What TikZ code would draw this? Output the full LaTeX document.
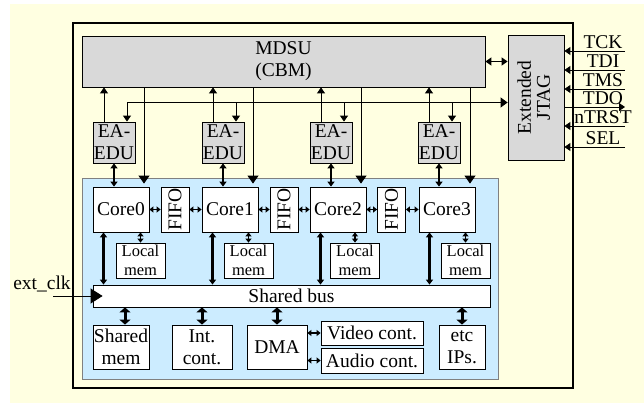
\documentclass[tikz,border=0pt]{standalone}
\usepackage{fontspec}
\setmainfont{Liberation Serif}
\usepackage{graphicx}
\usetikzlibrary{arrows.meta}
\definecolor{bgyellow}{RGB}{255,255,225}
\definecolor{chipblue}{RGB}{204,236,255}
\definecolor{boxgray}{RGB}{217,217,217}
\begin{document}
\begin{tikzpicture}[x=1pt,y=-1pt,
  box/.style={draw=black, line width=0.8pt, fill=white, inner sep=0pt, align=center, font=\fontsize{19.5}{22}\selectfont},
  graybox/.style={box, fill=boxgray},
  smallbox/.style={box, font=\fontsize{16.5}{18.5}\selectfont},
  thinarrow/.style={line width=0.9pt, -{Triangle[length=6pt,width=8pt]}},
  bigdown/.style={line width=0.9pt, -{Triangle[length=8pt,width=11pt]}},
  thickdbl/.style={line width=2.4pt, {Triangle[length=5pt,width=7pt]}-{Triangle[length=5pt,width=7pt]}},
  bigdbl/.style={line width=3pt, {Triangle[length=5pt,width=11pt]}-{Triangle[length=5pt,width=11pt]}},
  smalldbl/.style={line width=1.8pt, {Triangle[length=4pt,width=6pt]}-{Triangle[length=4pt,width=6pt]}},
  sig/.style={font=\fontsize{19.5}{22}\selectfont, inner sep=0pt, anchor=base}
]
\useasboundingbox (0,0) rectangle (644,403);
\fill[bgyellow] (10,4) rectangle (644,403);
\draw[line width=1.8pt] (73,23) rectangle (573,388);

% blue chip area
\node[draw=gray, fill=chipblue, line width=0.8pt, minimum width=416pt, minimum height=201pt, inner sep=0pt] (chip) at (290,278.5) {};

% MDSU and JTAG
\node[graybox, minimum width=403pt, minimum height=51pt] (mdsu) at (283.5,61.5) {MDSU\\(CBM)};
\node[graybox, minimum width=56pt, minimum height=125pt] (jtag) at (536,97.5) {\rotatebox{90}{\begin{tabular}{@{}c@{}}Extended\\[-3pt]JTAG\end{tabular}}};

% EA-EDU
\foreach \i/\c in {0/114,1/223,2/331,3/439}{
  \node[graybox, minimum width=42pt, minimum height=41pt] (edu\i) at (\c,142.5) {EA-\\EDU};
}

% cores
\foreach \i/\c in {0/121,1/230,2/338,3/447}{
  \node[box, minimum width=56pt, minimum height=45pt] (core\i) at (\c,209.5) {Core\i};
}
% FIFOs
\foreach \i/\c in {0/175,1/284,2/391.5}{
  \node[box, minimum width=28pt, minimum height=45pt] (fifo\i) at (\c,209.5) {\rotatebox{90}{FIFO}};
}
% local mems
\foreach \i/\c in {0/140.5,1/248.5,2/355,3/465.5}{
  \node[smallbox, minimum width=49pt, minimum height=35pt] (lm\i) at (\c,260.5) {Local\\mem};
}
% shared bus
\node[box, minimum width=397pt, minimum height=22pt] (bus) at (291.5,296) {Shared bus};

% bottom boxes
\node[box, minimum width=56pt, minimum height=44pt] (smem) at (121,347) {Shared\\mem};
\node[box, minimum width=60pt, minimum height=44pt] (intc) at (202,347) {Int.\\cont.};
\node[box, minimum width=60pt, minimum height=44pt] (dma) at (277,347) {DMA};
\node[box, minimum width=102pt, minimum height=24pt] (video) at (372,333) {Video cont.};
\node[box, minimum width=102pt, minimum height=25pt] (audio) at (372,360.5) {Audio cont.};
\node[box, minimum width=46pt, minimum height=44pt] (etc) at (462,347) {etc\\IPs.};

% MDSU <-> JTAG
\draw[line width=1.3pt, {Triangle[length=6pt,width=8pt]}-{Triangle[length=6pt,width=8pt]}] (mdsu.east) -- (jtag.west |- mdsu.east);

% JTAG signals
\foreach \n/\y/\t in {tck/51/TCK, tdi/70/TDI, tms/89/TMS, ntrst/126/nTRST, sel/147/SEL}{
  \coordinate (\n) at (625,\y);
  \draw[thinarrow] (\n) -- (jtag.east |- \n);
  \node[sig] (l\n) at (603,\y-2) {\t};
}
\coordinate (tdo) at (625,107);
\draw[thinarrow] (jtag.east |- tdo) -- (tdo);
\node[sig] (ltdo) at (603,105) {TDO};

% JTAG -> EDU bus line
\coordinate (h0) at (127,102.5);
\draw[line width=0.9pt, -{Triangle[length=7pt,width=10pt]}] (h0) -- (jtag.west |- h0);
\foreach \i in {0,1,2,3}{
  \draw[thinarrow] ([xshift=13pt]edu\i.north |- h0) -- ([xshift=13pt]edu\i.north);
  \draw[thinarrow] ([xshift=-10pt]edu\i.north) -- ([xshift=-10pt]edu\i.north |- mdsu.south);
  \draw[thickdbl] (edu\i.south) -- (edu\i.south |- core\i.north);
  \coordinate (d\i) at ([xshift=23pt,yshift=3pt]core\i.north);
  \draw[bigdown] (d\i |- mdsu.south) -- (d\i);
  \draw[smalldbl] (core\i.south -| lm\i.north) -- (lm\i.north);
  \draw[thickdbl] ([xshift=-17.5pt]core\i.south) -- ([xshift=-17.5pt]core\i.south |- bus.north);
}

% core <-> FIFO
\draw[smalldbl] (core0.east) -- (fifo0.west);
\draw[smalldbl] (fifo0.east) -- (core1.west);
\draw[smalldbl] (core1.east) -- (fifo1.west);
\draw[smalldbl] (fifo1.east) -- (core2.west);
\draw[smalldbl] (core2.east) -- (fifo2.west);
\draw[smalldbl] (fifo2.east) -- (core3.west);

% ext_clk
\coordinate (clk) at (53,296);
\draw[line width=0.9pt, -{Triangle[length=12pt,width=15pt]}] (clk) -- ([xshift=10pt]bus.west);
\node[sig] (lclk) at (42,289) {ext\_clk};

% bus <-> bottom boxes
\draw[bigdbl] ([xshift=4pt]smem.north) -- ([xshift=4pt]smem.north |- bus.south);
\draw[bigdbl] (intc.north) -- (intc.north |- bus.south);
\draw[bigdbl] (dma.north) -- (dma.north |- bus.south);
\draw[bigdbl] (etc.north) -- (etc.north |- bus.south);
\draw[smalldbl] (dma.east |- video.west) -- (video.west);
\draw[smalldbl] (dma.east |- audio.west) -- (audio.west);
\end{tikzpicture}
\end{document}
